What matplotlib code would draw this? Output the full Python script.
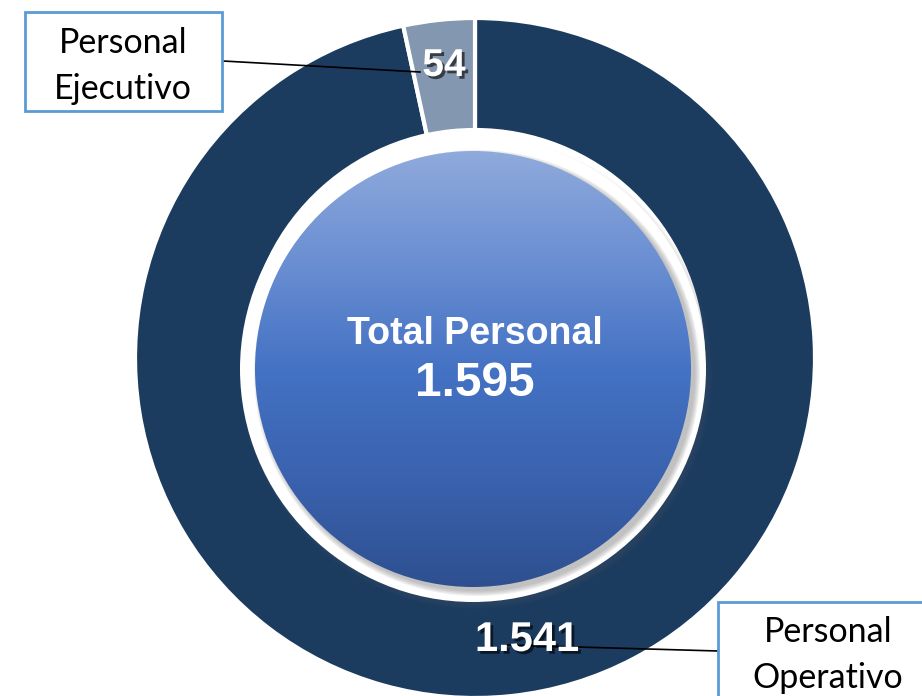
import matplotlib
matplotlib.use('Agg')
import matplotlib.pyplot as plt
import matplotlib.patheffects as pe
from matplotlib.patches import Circle, Rectangle
import numpy as np

# data
labels = ["Personal\nOperativo", "Personal\nEjecutivo"]
values = [1541, 54]
colors = ["#1B3C5F", "#8497B0"]
total_label = "Total Personal"

W, H = 922, 696


def fmt(v):
    return f"{v:,}".replace(",", ".")


def py(y):
    # pixel row (from top) -> data y
    return H - y


fig = plt.figure(figsize=(W / 100, H / 100), dpi=100)
ax = fig.add_axes([0, 0, 1, 1])

# outer ring
cx, cy, R = 475, py(358), 340
wedges, _ = ax.pie(values, colors=colors, startangle=90, counterclock=False,
                   radius=R, center=(cx, cy), frame=False,
                   wedgeprops=dict(width=112, edgecolor='white', linewidth=3))
ax.set_xlim(0, W)
ax.set_ylim(0, H)
ax.set_aspect('equal')
ax.axis('off')

# inner disc: soft shadow, white border, gradient fill
icx, icy = 473, py(369)
for k in range(4):
    ax.add_patch(Circle((icx + 3, icy - 4), 236 - k * 1.5, color='#606060',
                        alpha=0.06, zorder=3, lw=0))
ax.add_patch(Circle((icx, icy), 233, color='white', zorder=4, lw=0))
for k in range(5):
    ax.add_patch(Circle((icx + 4, icy - 4), 223 - k * 1.2, color='#808080',
                        alpha=0.12, zorder=5, lw=0))
disc = Circle((icx, icy), 218, color='none', zorder=6)
ax.add_patch(disc)
grad = np.linspace(0, 1, 256).reshape(-1, 1)
cmap = matplotlib.colors.LinearSegmentedColormap.from_list(
    'g', ["#8FAADC", "#6B8FD2", "#4472C4", "#3A62AE", "#2E5090"])
im = ax.imshow(grad, cmap=cmap, extent=(icx - 218, icx + 218, icy - 218, icy + 218),
               origin='upper', aspect='auto', zorder=6)
im.set_clip_path(disc)

ax.text(475, py(334), total_label, ha='center', va='center', color='white',
        fontsize=27, fontweight='bold', family='Liberation Sans', zorder=7)
ax.text(475, py(384), fmt(sum(values)), ha='center', va='center', color='white',
        fontsize=34.5, fontweight='bold', family='Liberation Sans', zorder=7)

shadow = [pe.withSimplePatchShadow(offset=(2, -2), shadow_rgbFace='black', alpha=0.6)]

# value labels
ax.text(444, py(66), fmt(values[1]), ha='center', va='center', color='white',
        fontsize=28, fontweight='bold', family='Liberation Sans', zorder=9,
        path_effects=shadow)
ax.text(527, py(640), fmt(values[0]), ha='center', va='center', color='white',
        fontsize=30, fontweight='bold', family='Liberation Sans', zorder=9,
        path_effects=shadow)

# leader lines
ax.plot([223, 420], [py(61), py(72)], color='black', lw=1.2, zorder=8)
ax.plot([507, 718], [py(645), py(651)], color='black', lw=1.2, zorder=8)

# callout boxes
box_kw = dict(facecolor='white', edgecolor='#5B9BD5', lw=2, zorder=10, clip_on=False)
ax.add_patch(Rectangle((25, py(111)), 197, 99, **box_kw))
ax.add_patch(Rectangle((718, py(705)), 222, 103, **box_kw))
ax.text(123, py(66), labels[1], ha='center', va='center', fontsize=24.5,
        family='Lato', linespacing=1.55, zorder=11)
ax.text(828, py(655), labels[0], ha='center', va='center', fontsize=24.5,
        family='Lato', linespacing=1.55, zorder=11)

plt.savefig('out.png', dpi=100)
plt.close()
